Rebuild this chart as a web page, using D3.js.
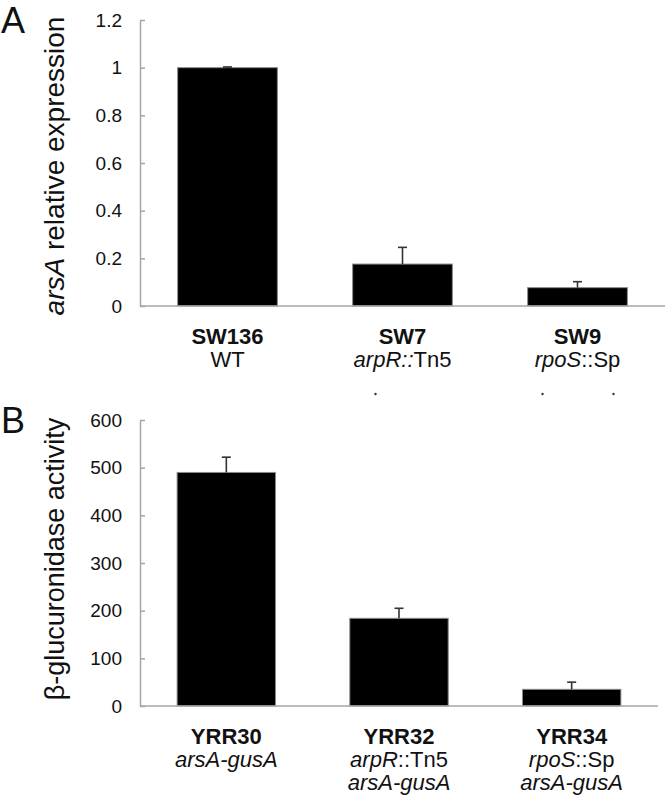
<!DOCTYPE html>
<html>
<head>
<meta charset="utf-8">
<script src="https://cdn.jsdelivr.net/npm/d3@7"></script>
<style>
  body { margin: 0; background: #fff; }
  svg { display: block; font-family: "Liberation Sans", Arial, sans-serif; }
</style>
</head>
<body>
<svg id="chart" width="666" height="803"></svg>
<script>
// ---- Data ----
const strainsA = ["SW136", "SW7", "SW9"];
const genotypeA = [
  [{t: "WT", i: false}],
  [{t: "arpR::", i: true}, {t: "Tn5", i: false}],
  [{t: "rpoS", i: true}, {t: "::Sp", i: false}]
];
const valuesA = [1.0, 0.176, 0.077];
const errorsA = [0.003, 0.07, 0.025];
const ticksA = [0, 0.2, 0.4, 0.6, 0.8, 1, 1.2];

const strainsB = ["YRR30", "YRR32", "YRR34"];
const genotypeB = [
  [{t: "arsA-gusA", i: true}],
  [{t: "arpR", i: true}, {t: "::Tn5", i: false}],
  [{t: "rpoS", i: true}, {t: "::Sp", i: false}]
];
const reporterB = ["", "arsA-gusA", "arsA-gusA"];
const valuesB = [490, 184, 35];
const errorsB = [32, 21, 15];
const ticksB = [0, 100, 200, 300, 400, 500, 600];

const svg = d3.select("#chart");

function panel(opts) {
  const g = svg.append("g");
  const x = d3.scaleBand().domain(opts.cats).range([opts.x0, opts.x1])
    .paddingInner(0.43).paddingOuter(0.215);
  const y = d3.scaleLinear().domain(opts.domain).range([opts.yBottom, opts.yTop]);

  // y axis
  const ya = g.append("g").attr("transform", `translate(${opts.x0},0)`)
    .call(d3.axisLeft(y).tickValues(opts.ticks).tickSizeInner(-5).tickSizeOuter(0)
      .tickPadding(18).tickFormat(d3.format("~g")));
  ya.select(".domain").attr("stroke", "#a6a6a6").attr("stroke-width", 1.5);
  ya.selectAll(".tick line").attr("stroke", "#a6a6a6").attr("stroke-width", 1.5);
  ya.selectAll(".tick text").attr("font-size", 19).attr("fill", "#111")
    .attr("font-family", "Liberation Sans, Arial, sans-serif");

  // bars
  g.selectAll("rect.bar").data(opts.values).join("rect")
    .attr("class", "bar")
    .attr("x", (d, i) => x(opts.cats[i]))
    .attr("width", x.bandwidth())
    .attr("y", d => y(d))
    .attr("height", d => y(0) - y(d))
    .attr("fill", "#000")
    .attr("stroke", "#8c8c8c")
    .attr("stroke-width", 1);

  // error bars (upper only)
  opts.values.forEach((v, i) => {
    const cx = x(opts.cats[i]) + x.bandwidth() / 2;
    const top = y(v + opts.errors[i]);
    g.append("line").attr("x1", cx).attr("x2", cx).attr("y1", y(v)).attr("y2", top)
      .attr("stroke", "#333").attr("stroke-width", 1.6);
    g.append("line").attr("x1", cx - 4.5).attr("x2", cx + 4.5).attr("y1", top).attr("y2", top)
      .attr("stroke", "#333").attr("stroke-width", 1.6);
  });

  // x axis baseline
  g.append("line").attr("x1", opts.x0).attr("x2", opts.x1)
    .attr("y1", y(0)).attr("y2", y(0))
    .attr("stroke", "#a6a6a6").attr("stroke-width", 1.5);

  // category labels
  opts.cats.forEach((c, i) => {
    const cx = x(c) + x.bandwidth() / 2;
    g.append("text").attr("x", cx).attr("y", y(0) + 38)
      .attr("text-anchor", "middle").attr("font-size", 22).attr("font-weight", "bold")
      .attr("fill", "#111").text(c);
    const t2 = g.append("text").attr("x", cx).attr("y", y(0) + 61)
      .attr("text-anchor", "middle").attr("font-size", 22).attr("fill", "#111");
    opts.geno[i].forEach(p => {
      t2.append("tspan").attr("font-style", p.i ? "italic" : "normal").text(p.t);
    });
    if (opts.line3 && opts.line3[i]) {
      g.append("text").attr("x", cx).attr("y", y(0) + 84)
        .attr("text-anchor", "middle").attr("font-size", 22).attr("font-style", "italic")
        .attr("fill", "#111").text(opts.line3[i]);
    }
  });

  // y label
  const yl = g.append("text")
    .attr("transform", `translate(64,${opts.labelY}) rotate(-90)`)
    .attr("text-anchor", "middle").attr("font-size", opts.labelSize).attr("fill", "#111");
  opts.ylabel.forEach(p => yl.append("tspan").attr("font-style", p.i ? "italic" : "normal").text(p.t));

  // panel letter
  g.append("text").attr("x", 1).attr("y", opts.letterY).attr("font-size", 36)
    .attr("fill", "#111").text(opts.letter);

  return {g, x, y};
}

const A = panel({
  cats: strainsA, values: valuesA, errors: errorsA, ticks: ticksA, domain: [0, 1.2],
  x0: 140, x1: 665, yBottom: 306, yTop: 20, geno: genotypeA,
  ylabel: [{t: "arsA", i: true}, {t: " relative expression", i: false}],
  labelY: 166, labelSize: 28, letter: "A", letterY: 33
});

// faint remnant dots under panel A labels
[[1, -27], [2, -35], [2, 36]].forEach(([i, dx]) => {
  const cx = A.x(strainsA[i]) + A.x.bandwidth() / 2;
  A.g.append("circle").attr("cx", cx + dx).attr("cy", 394).attr("r", 1.2).attr("fill", "#333");
});

panel({
  cats: strainsB, values: valuesB, errors: errorsB, ticks: ticksB, domain: [0, 600],
  x0: 140, x1: 658, yBottom: 706, yTop: 420, geno: genotypeB, line3: reporterB,
  ylabel: [{t: "β-glucuronidase activity", i: false}],
  labelY: 559, labelSize: 27, letter: "B", letterY: 433
});
</script>
</body>
</html>
